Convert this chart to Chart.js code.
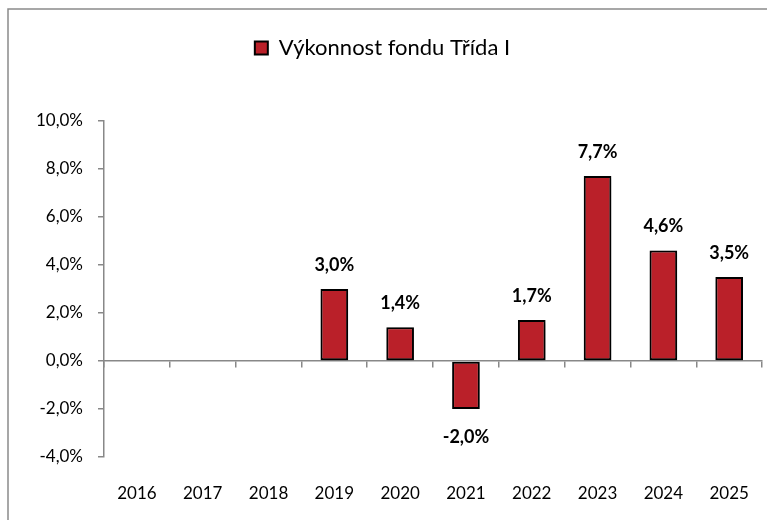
<!DOCTYPE html>
<html>
<head>
<meta charset="utf-8">
<script src="https://cdn.jsdelivr.net/npm/chart.js@4"></script>
<style>
  html, body { margin: 0; padding: 0; background: #fff; }
  #wrap { width: 767px; height: 520px; }
</style>
</head>
<body>
<div id="wrap"><canvas id="myChart" width="767" height="520"></canvas></div>
<script>
const years = ['2016', '2017', '2018', '2019', '2020', '2021', '2022', '2023', '2024', '2025'];
const performance = [null, null, null, 3.0, 1.4, -2.0, 1.7, 7.7, 4.6, 3.5];
const yTicks = [-4, -2, 0, 2, 4, 6, 8, 10];
const seriesName = 'Výkonnost fondu Třída I';

function fmtPct(v) {
  return v.toFixed(1).replace('.', ',') + '%';
}

// frame line on top and left like the original picture
const framePlugin = {
  id: 'frame',
  beforeDraw(chart) {
    const ctx = chart.ctx;
    ctx.save();
    ctx.fillStyle = '#fff';
    ctx.fillRect(0, 0, chart.width, chart.height);
    ctx.strokeStyle = '#8a8a8a';
    ctx.lineWidth = 1.5;
    ctx.beginPath();
    ctx.moveTo(8, chart.height);
    ctx.lineTo(8, 9);
    ctx.lineTo(chart.width, 9);
    ctx.stroke();
    ctx.restore();
  }
};

// soft shadow under the bars
const shadowPlugin = {
  id: 'barShadow',
  beforeDatasetDraw(chart) {
    const ctx = chart.ctx;
    ctx.save();
    ctx.shadowColor = 'rgba(0,0,0,0.35)';
    ctx.shadowBlur = 4;
    ctx.shadowOffsetX = 1;
    ctx.shadowOffsetY = 2;
  },
  afterDatasetDraw(chart) {
    chart.ctx.restore();
  }
};

// value labels over / under bars
const valueLabels = {
  id: 'valueLabels',
  afterDatasetsDraw(chart) {
    const ctx = chart.ctx;
    const meta = chart.getDatasetMeta(0);
    ctx.save();
    ctx.font = 'bold 18px Lato';
    ctx.fillStyle = '#000';
    ctx.textAlign = 'center';
    ctx.textBaseline = 'middle';
    meta.data.forEach((bar, i) => {
      const v = performance[i];
      if (v === null) return;
      const y = v >= 0 ? bar.y - 24 : bar.y + 28;
      ctx.fillText(fmtPct(v), bar.x, y);
    });
    ctx.restore();
  }
};

const data = {
  labels: years,
  datasets: [{
    label: seriesName,
    data: performance,
    backgroundColor: '#BA2029',
    borderColor: '#000',
    borderWidth: 2,
    borderSkipped: false,
    barPercentage: 0.42,
    categoryPercentage: 1.0,
    xAxisID: 'x'
  }]
};

const config = {
  type: 'bar',
  data,
  options: {
    responsive: false,
    animation: false,
    layout: { padding: { top: 0, left: 0, right: 2, bottom: 0 } },
    plugins: {
      legend: {
        display: true,
        position: 'top',
        weight: 1000,
        labels: {
          font: { family: 'Lato', size: 22 },
          color: '#000',
          boxWidth: 13,
          boxHeight: 13,
          padding: 37
        }
      },
      subtitle: {
        // empty spacer between legend and plot
        display: true,
        text: ' ',
        weight: 500,
        padding: { top: 0, bottom: 35 },
        font: { size: 14 }
      },
      tooltip: { enabled: false }
    },
    scales: {
      y: {
        min: -4,
        max: 10,
        afterFit: (scale) => { scale.width = 104; },
        afterBuildTicks: (scale) => { scale.ticks = yTicks.map(v => ({ value: v })); },
        ticks: {
          callback: (v) => fmtPct(v),
          font: { family: 'Lato', size: 17 },
          color: '#000',
          padding: 15
        },
        grid: { drawOnChartArea: false, drawTicks: true, tickLength: 6, color: '#888', lineWidth: 1.5 },
        border: { display: true, color: '#888', width: 1.5 }
      },
      x: {
        position: 'bottom',
        afterFit: (scale) => { scale.height = 63; },
        ticks: {
          font: { family: 'Lato', size: 17 },
          color: '#000',
          padding: 18
        },
        grid: { display: false },
        border: { display: false }
      },
      xZero: {
        type: 'category',
        labels: years,
        position: { y: 0 },
        offset: true,
        ticks: { display: false },
        grid: { offset: true, drawOnChartArea: false, drawTicks: true, tickLength: 6, color: '#888', lineWidth: 1.5 },
        border: { display: true, color: '#888', width: 1.5 }
      }
    }
  },
  plugins: [framePlugin, shadowPlugin, valueLabels]
};

const myChart = new Chart(document.getElementById('myChart'), config);
</script>
</body>
</html>
